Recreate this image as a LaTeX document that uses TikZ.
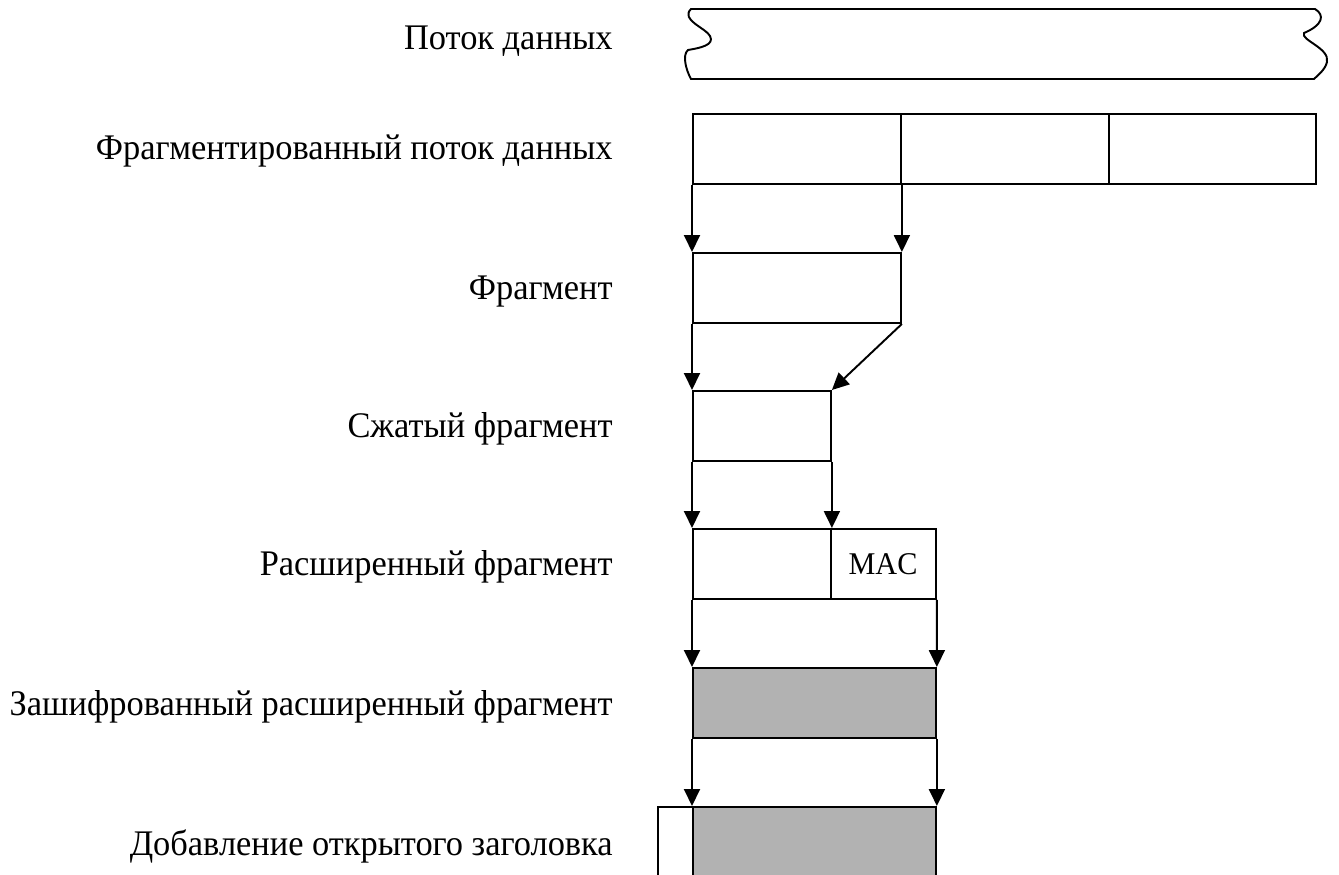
\documentclass[tikz,border=0pt]{standalone}
\usepackage{fontspec}
\setmainfont{Liberation Serif}
\usetikzlibrary{arrows.meta}
\newcommand{\sqz}[1]{\scalebox{0.955}[1]{#1}}
\begin{document}
\begin{tikzpicture}[x=0.02cm,y=-0.02cm,
  lw/.style={line width=1.1pt},
  box/.style={draw,lw,rectangle,inner sep=0pt,anchor=north west,minimum height=1.4cm},
  shaded/.style={box,fill=black!30},
  lbl/.style={anchor=base east,font=\fontsize{20.5}{24}\selectfont,inner sep=0pt},
  arr/.style={lw,-{Triangle[width=0.32cm,length=0.34cm]}}]
\useasboundingbox (0,0) rectangle (1339,875);
% data stream
\draw[lw,fill=white] (691,9) -- (1315,9)
  .. controls (1325,15) and (1323,25) .. (1304,33)
  .. controls (1300,40) and (1330,48) .. (1327,62)
  .. controls (1325,70) and (1318,75) .. (1314,79)
  -- (691,79)
  .. controls (686,70) and (682,55) .. (688,50)
  .. controls (700,48) and (715,45) .. (710,36)
  .. controls (706,28) and (680,20) .. (691,9) -- cycle;
% fragmented stream
\node[box,minimum width=4.16cm] (f1) at (692,113) {};
\node[box,minimum width=4.16cm] (f2) at (900,113) {};
\node[box,minimum width=4.14cm] (f3) at (1108,113) {};
% fragment
\node[box,minimum width=4.16cm] (fr) at (692,252) {};
% compressed
\node[box,minimum width=2.76cm] (cf) at (692,390) {};
% extended
\node[box,minimum width=2.76cm] (e1) at (692,528) {};
\node[box,minimum width=2.1cm] (e2) at (830,528) {};
\node[anchor=base,inner sep=0pt,font=\fontsize{18}{21}\selectfont] (mac) at (883,574) {\sqz{MAC}};
% encrypted
\node[shaded,minimum width=4.86cm] (en) at (692,667) {};
% header added
\node[box,minimum width=0.7cm,minimum height=1.8cm] (hd) at (657,806) {};
\node[shaded,minimum width=4.86cm,minimum height=1.8cm] (eh) at (692,806) {};
% arrows
\draw[arr] (f1.south west) -- (fr.north west);
\draw[arr] (f1.south east) -- (fr.north east);
\draw[arr] (fr.south west) -- (cf.north west);
\draw[arr] (fr.south east) -- (cf.north east);
\draw[arr] (cf.south west) -- (e1.north west);
\draw[arr] (cf.south east) -- (e1.north east);
\draw[arr] (e1.south west) -- (en.north west);
\draw[arr] (e2.south east) -- (en.north east);
\draw[arr] (en.south west) -- (eh.north west);
\draw[arr] (en.south east) -- (eh.north east);
% labels
\node[lbl] (l1) at (613,50) {\sqz{Поток данных}};
\node[lbl] (l2) at (613,159) {\sqz{Фрагментированный поток данных}};
\node[lbl] (l3) at (613,299) {\sqz{Фрагмент}};
\node[lbl] (l4) at (613,437) {\sqz{Сжатый фрагмент}};
\node[lbl] (l5) at (613,575) {\sqz{Расширенный фрагмент}};
\node[lbl] (l6) at (613,715) {\sqz{Зашифрованный расширенный фрагмент}};
\node[lbl] (l7) at (613,855) {\sqz{Добавление открытого заголовка}};
\end{tikzpicture}
\end{document}
